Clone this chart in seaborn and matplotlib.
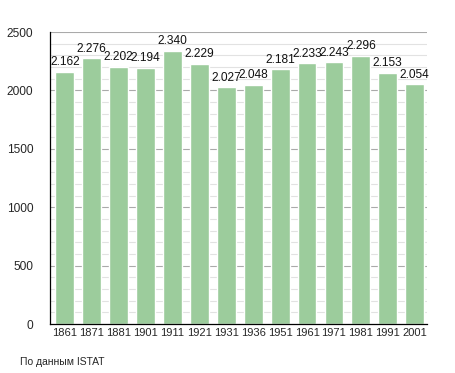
import matplotlib
matplotlib.use("Agg")
import matplotlib.pyplot as plt
import seaborn as sns
import pandas as pd

years = ["1861", "1871", "1881", "1901", "1911", "1921", "1931",
         "1936", "1951", "1961", "1971", "1981", "1991", "2001"]
population = [2162, 2276, 2202, 2194, 2340, 2229, 2027,
              2048, 2181, 2233, 2243, 2296, 2153, 2054]
labels = ["2.162", "2.276", "2.202", "2.194", "2.340", "2.229", "2.027",
          "2.048", "2.181", "2.233", "2.243", "2.296", "2.153", "2.054"]

df = pd.DataFrame({"year": years, "pop": population})

sns.set_style("white")
plt.rcParams["font.family"] = ["Liberation Sans", "DejaVu Sans"]

fig = plt.figure(figsize=(4.55, 3.73), dpi=100)
ax = fig.add_axes([0.110, 0.131, 0.828, 0.783])

# grid every 100, darker every 500
for v in range(100, 2600, 100):
    ax.axhline(v, color="#aaaaaa" if v % 500 == 0 else "#e2e2e2",
               lw=0.8, zorder=0)

sns.barplot(data=df, x="year", y="pop", color="#9ccc9c", saturation=1,
            width=0.7, ax=ax, zorder=2)

for i, (v, t) in enumerate(zip(population, labels)):
    ax.text(i, v + 30, t, ha="center", va="bottom", fontsize=8.6,
            color="#111111", zorder=3)

ax.set_ylim(0, 2500)
ax.set_xlim(-0.55, 13.45)
ax.set_yticks(range(0, 2501, 500))
ax.set_yticks(range(0, 2501, 100), minor=True)
ax.tick_params(axis="y", which="major", length=4, width=0.8, labelsize=8.6,
               direction="out", pad=8)
ax.tick_params(axis="y", which="minor", length=2.5, width=0.6,
               direction="out")
ax.tick_params(axis="x", length=0, labelsize=8, pad=3)
ax.set_xlabel("")
ax.set_ylabel("")
for s in ["top", "right"]:
    ax.spines[s].set_visible(False)
ax.spines["left"].set_color("black")
ax.spines["bottom"].set_color("black")
ax.spines["left"].set_linewidth(0.9)
ax.spines["bottom"].set_linewidth(0.9)

fig.text(20 / 455, 1 - 362 / 373, "По данным ISTAT", fontsize=7.5,
         va="center", ha="left")

fig.savefig("out.png", dpi=100)
